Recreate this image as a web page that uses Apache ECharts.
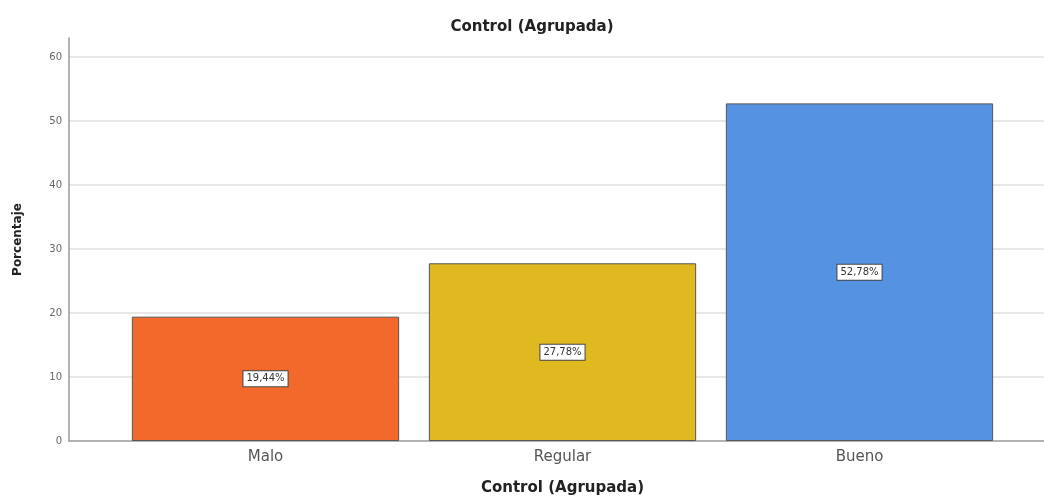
<!DOCTYPE html>
<html>
<head>
<meta charset="utf-8">
<script src="https://cdn.jsdelivr.net/npm/echarts@6/dist/echarts.min.js"></script>
<style>
  html, body { margin: 0; padding: 0; background: #fff; }
  #main { width: 1044px; height: 498px; }
</style>
</head>
<body>
<div id="main"></div>
<script>
// datos
const categories = ['Malo', 'Regular', 'Bueno'];
const percentValues = [19.44, 27.78, 52.78];
const barColors = ['#f2692b', '#e0b921', '#5593e2'];
const yTicks = [0, 10, 20, 30, 40, 50, 60];

const FONT = '"DejaVu Sans", sans-serif';

const chart = echarts.init(document.getElementById('main'));

const option = {
  animation: false,
  title: {
    text: 'Control (Agrupada)',
    left: 527,
    top: 15,
    textAlign: 'center',
    textStyle: { fontFamily: FONT, fontSize: 15, fontWeight: 'bold', color: '#222' }
  },
  // grid 0: eje y + lineas de cuadricula, grid 1: barras
  grid: [
    { left: 69, right: 0, top: 38, bottom: 57, outerBoundsMode: 'none' },
    { left: 117, right: 36, top: 38, bottom: 57, outerBoundsMode: 'none' }
  ],
  xAxis: [
    {
      gridIndex: 0,
      type: 'value',
      min: 0,
      max: 1,
      axisLabel: { show: false },
      axisTick: { show: false },
      splitLine: { show: false },
      axisLine: { show: true, lineStyle: { color: '#9a9a9a', width: 1.5 } }
    },
    {
      gridIndex: 1,
      type: 'category',
      data: categories,
      axisLine: { show: false },
      axisTick: { show: false },
      axisLabel: { fontFamily: FONT, fontSize: 15, color: '#555', margin: 9 },
      name: 'Control (Agrupada)',
      nameLocation: 'middle',
      nameGap: 40,
      nameTextStyle: { fontFamily: FONT, fontSize: 15, fontWeight: 'bold', color: '#222' }
    }
  ],
  yAxis: [
    {
      gridIndex: 0,
      type: 'value',
      min: 0,
      max: 63,
      interval: 10,
      axisLine: { show: true, lineStyle: { color: '#9a9a9a', width: 1.5 } },
      axisTick: { show: false },
      axisLabel: {
        showMaxLabel: false,
        fontFamily: FONT, fontSize: 10, color: '#666', margin: 7,
        formatter: v => (yTicks.includes(v) ? String(v) : '')
      },
      splitLine: { show: true, showMaxLine: false, showMinLine: false, lineStyle: { color: '#e0e0e0', width: 1.5 } },
      name: 'Porcentaje',
      nameLocation: 'middle',
      nameGap: 45,
      nameTextStyle: { fontFamily: FONT, fontSize: 12, fontWeight: 'bold', color: '#222' }
    },
    {
      gridIndex: 1,
      type: 'value',
      min: 0,
      max: 63,
      show: false
    }
  ],
  series: [
    {
      type: 'bar',
      xAxisIndex: 1,
      yAxisIndex: 1,
      barCategoryGap: '10%',
      data: percentValues.map((v, i) => ({
        value: v,
        itemStyle: { color: barColors[i] }
      })),
      itemStyle: { borderColor: '#555', borderWidth: 1 },
      label: {
        show: true,
        position: 'inside',
        formatter: p => p.value.toFixed(2).replace('.', ',') + '%',
        fontFamily: FONT,
        fontSize: 10,
        color: '#333',
        backgroundColor: '#fff',
        borderColor: '#444',
        borderWidth: 1,
        padding: [3, 3, 2, 3]
      }
    }
  ]
};

chart.setOption(option);
</script>
</body>
</html>
